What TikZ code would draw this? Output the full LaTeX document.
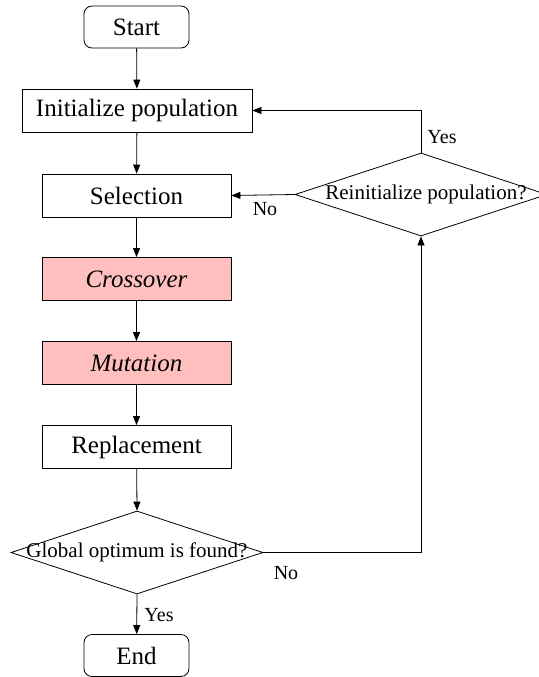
\documentclass[tikz,border=0pt]{standalone}
\usepackage{fontspec}
\setmainfont{Liberation Serif}
\usetikzlibrary{shapes.geometric,arrows.meta}
\definecolor{pinkfill}{RGB}{255,191,191}
\begin{document}
\begin{tikzpicture}[x=1pt,y=-1pt,
  every node/.style={inner sep=0pt},
  procbox/.style={draw,line width=0.8pt,minimum height=43pt,font=\fontsize{25}{29}\selectfont},
  termbox/.style={draw,line width=0.8pt,rounded corners=8pt,minimum width=105pt,minimum height=42pt,font=\fontsize{25}{29}\selectfont},
  hlbox/.style={procbox,fill=pinkfill,font=\fontsize{25}{29}\selectfont\itshape},
  decbox/.style={draw,line width=0.8pt,diamond,minimum width=252pt,minimum height=83pt},
  dectext/.style={font=\fontsize{21}{25}\selectfont},
  lbl/.style={font=\fontsize{20}{24}\selectfont},
  conn/.style={draw,line width=0.8pt,-{Triangle[length=9pt,width=7pt]}}
]
\useasboundingbox (0,0) rectangle (538,677);
\node[termbox] (start) at (136.5,27) {Start};
\node[procbox,minimum width=230pt] (init) at (137,110.5) {Initialize population};
\node[procbox,minimum width=189pt] (sel) at (136.5,195.5) {Selection};
\node[hlbox,minimum width=189pt] (cross) at (136.5,279) {Crossover};
\node[hlbox,minimum width=189pt] (mut) at (136.5,363) {Mutation};
\node[procbox,minimum width=189pt] (rep) at (136.5,447) {Replacement};
\node[decbox] (glob) at (137,552.5) {};
\node[dectext] (globt) at (137,552.5) {Global optimum is found?};
\node[termbox] (end) at (136.5,655.5) {End};
\node[decbox] (reinit) at (421,194.5) {};
\node[dectext] (reinitt) at (426,194.5) {Reinitialize population?};

\path[conn] (start) -- (init);
\path[conn] (init) -- (sel);
\path[conn] (sel) -- (cross);
\path[conn] (cross) -- (mut);
\path[conn] (mut) -- (rep);
\path[conn] (rep) -- (glob.north);
\path[conn] (glob.south) -- (end);
\path[conn] (glob.east) -| (reinit.south);
\path[conn] (reinit.north) |- (init.east);
\path[conn] (reinit.west) -- (sel.east);

\node[lbl] (yes1) at (442,137) {Yes};
\node[lbl] (no1) at (265,209) {No};
\node[lbl] (no2) at (286,573) {No};
\node[lbl] (yes2) at (159,615) {Yes};
\end{tikzpicture}
\end{document}
